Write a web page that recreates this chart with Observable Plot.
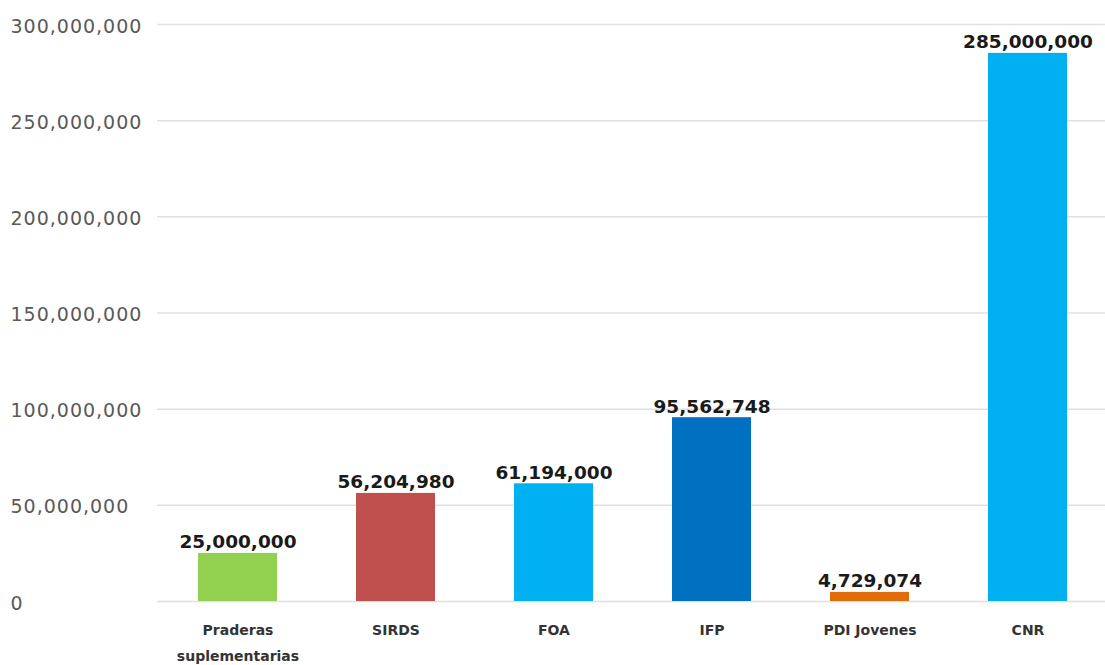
<!DOCTYPE html>
<html>
<head>
<meta charset="utf-8">
<script src="https://cdn.jsdelivr.net/npm/d3@7"></script>
<script src="https://cdn.jsdelivr.net/npm/@observablehq/plot@0.6"></script>
<style>
  html, body { margin: 0; padding: 0; background: #fff; overflow: hidden; }
  [aria-label="y-axis tick label"] text { letter-spacing: 1px; }
</style>
</head>
<body>
<div id="chart"></div>
<script>
const categories = ["Praderas suplementarias", "SIRDS", "FOA", "IFP", "PDI Jovenes", "CNR"];
const values = [25000000, 56204980, 61194000, 95562748, 4729074, 285000000];
const barColors = ["#92D050", "#C0504D", "#00B0F0", "#0070C0", "#E26B0A", "#00B0F0"];
const yTicks = [0, 50000000, 100000000, 150000000, 200000000, 250000000, 300000000];
const tickLabels = {"Praderas suplementarias": "Praderas\nsuplementarias"};

const data = categories.map((c, i) => ({category: c, value: values[i], color: barColors[i]}));
const fmt = d3.format(",");

const chart = Plot.plot({
  width: 1105,
  height: 665,
  marginTop: 24,
  marginBottom: 64,
  marginLeft: 157,
  marginRight: 0,
  x: {domain: categories, range: [157, 1107], paddingInner: 0.5, paddingOuter: 0.25},
  y: {domain: [0, 300000000]},
  marks: [
    Plot.ruleY(yTicks, {stroke: "#e0e0e0", strokeWidth: 1.5}),
    Plot.barY(data, {x: "category", y: "value", fill: "color"}),
    Plot.text(data, {
      x: "category", y: "value", text: d => fmt(d.value),
      lineAnchor: "bottom", dy: -5,
      fontFamily: "DejaVu Sans", fontWeight: "bold", fontSize: 18.5, fill: "#1a1a1a"
    }),
    Plot.axisY({
      ticks: yTicks, tickFormat: fmt, tickSize: 0, tickPadding: 147,
      textAnchor: "start", dy: 2,
      fontFamily: "DejaVu Sans", fontSize: 19, fill: "#595959", label: null
    }),
    Plot.axisX({
      tickSize: 0, tickPadding: 16, lineAnchor: "top", lineHeight: 1.8,
      tickFormat: d => tickLabels[d] || d,
      fontFamily: "DejaVu Sans", fontWeight: "bold", fontSize: 14, fill: "#333333", label: null
    })
  ]
});
document.getElementById("chart").appendChild(chart);
</script>
</body>
</html>
